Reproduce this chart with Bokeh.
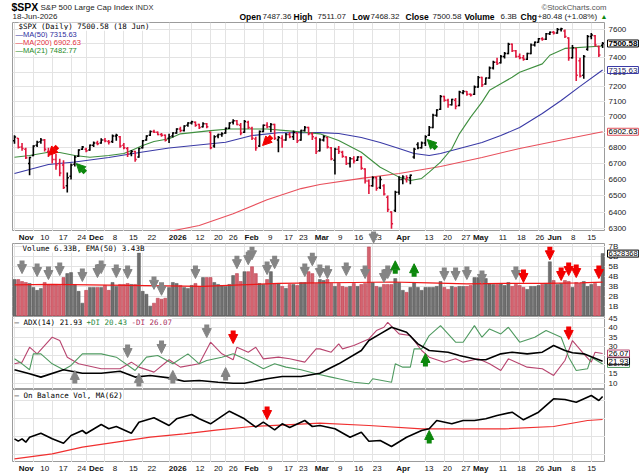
import math
from bokeh.plotting import figure
from bokeh.layouts import column, row
from bokeh.models import (ColumnDataSource, Range1d, Label, LabelSet, Arrow,
                          NormalHead, FixedTicker, Grid)
from bokeh.core.properties import value
from bokeh.embed import file_html
from bokeh.resources import INLINE

# ---------------------------------------------------------------------------
# $SPX daily bars, 3 Nov 2025 .. 18 Jun 2026, indexed by trading day (0..156)
# ---------------------------------------------------------------------------
opens = [6845, 6860, 6805, 6790, 6700, 6750, 6815, 6838, 6850, 6775,
         6780, 6725, 6700, 6690, 6560, 6620, 6695, 6745, 6790, 6790,
         6785, 6815, 6830, 6830, 6850, 6840, 6840, 6875, 6870, 6815,
         6795, 6765, 6775, 6740, 6800, 6850, 6880, 6905, 6900, 6885,
         6880, 6860, 6875, 6895, 6920, 6910, 6945, 6960, 6965, 6950,
         6935, 6955, 6900, 6810, 6875, 6885, 6895, 6925, 6965, 6975,
         6945, 6900, 6965, 6925, 6855, 6810, 6905, 6945, 6935, 6950,
         6850, 6860, 6850, 6885, 6870, 6895, 6850, 6910, 6930, 6890,
         6860, 6780, 6850, 6865, 6800, 6720, 6790, 6770, 6740, 6700,
         6730, 6720, 6740, 6665, 6590, 6560, 6610, 6550, 6560, 6490,
         6400, 6410, 6520, 6600, 6600, 6610, 6740, 6820, 6800, 6830,
         6880, 6930, 7010, 7050, 7135, 7110, 7080, 7110, 7075, 7160,
         7170, 7150, 7150, 7200, 7265, 7220, 7260, 7330, 7370, 7365,
         7410, 7430, 7495, 7450, 7410, 7400, 7390, 7430, 7490, 7510,
         7535, 7530, 7570, 7580, 7575, 7600, 7590, 7540, 7400, 7465,
         7380, 7280, 7460, 7550, 7555, 7480, 7487.36]
highs = [6880, 6862, 6830, 6800, 6742, 6815, 6845, 6862, 6855, 6800,
         6790, 6760, 6730, 6720, 6643, 6700, 6750, 6790, 6810, 6800,
         6820, 6840, 6845, 6860, 6862, 6850, 6885, 6890, 6875, 6830,
         6805, 6785, 6780, 6800, 6850, 6880, 6910, 6915, 6905, 6895,
         6885, 6890, 6900, 6925, 6935, 6945, 6965, 6975, 6970, 6955,
         6965, 6960, 6905, 6880, 6890, 6900, 6930, 6965, 6985, 6980,
         6960, 6980, 6975, 6935, 6870, 6910, 6950, 6965, 6960, 6955,
         6875, 6880, 6895, 6900, 6910, 6900, 6915, 6940, 6935, 6900,
         6870, 6860, 6880, 6870, 6805, 6800, 6810, 6780, 6745, 6740,
         6745, 6745, 6745, 6670, 6600, 6620, 6615, 6620, 6570, 6500,
         6405, 6530, 6620, 6625, 6625, 6630, 6800, 6835, 6840, 6880,
         6940, 7020, 7050, 7145, 7140, 7120, 7120, 7125, 7175, 7180,
         7172, 7155, 7210, 7275, 7270, 7265, 7340, 7380, 7400, 7420,
         7440, 7505, 7500, 7455, 7430, 7420, 7435, 7500, 7515, 7540,
         7545, 7575, 7585, 7590, 7610, 7612, 7600, 7545, 7490, 7470,
         7400, 7420, 7560, 7575, 7560, 7485, 7511.07]
lows = [6825, 6795, 6780, 6728, 6625, 6745, 6805, 6825, 6775, 6740,
        6700, 6660, 6620, 6540, 6519, 6600, 6680, 6740, 6785, 6770,
        6780, 6805, 6815, 6825, 6835, 6820, 6830, 6845, 6800, 6790,
        6740, 6745, 6710, 6735, 6795, 6845, 6875, 6895, 6880, 6870,
        6840, 6830, 6865, 6890, 6900, 6905, 6935, 6950, 6935, 6920,
        6930, 6925, 6790, 6800, 6860, 6870, 6890, 6920, 6950, 6945,
        6880, 6895, 6920, 6850, 6780, 6805, 6900, 6925, 6900, 6850,
        6770, 6800, 6845, 6860, 6850, 6830, 6845, 6905, 6880, 6850,
        6760, 6775, 6840, 6795, 6720, 6630, 6760, 6735, 6690, 6675,
        6700, 6715, 6660, 6575, 6510, 6555, 6530, 6540, 6500, 6400,
        6300, 6400, 6505, 6570, 6580, 6570, 6730, 6790, 6795, 6810,
        6875, 6925, 7000, 7045, 7100, 7060, 7075, 7050, 7070, 7150,
        7140, 7135, 7145, 7195, 7200, 7215, 7255, 7320, 7350, 7360,
        7395, 7425, 7440, 7400, 7390, 7380, 7385, 7425, 7480, 7505,
        7520, 7525, 7560, 7565, 7570, 7585, 7540, 7380, 7395, 7240,
        7265, 7255, 7450, 7530, 7480, 7405, 7468.32]
closes = [6868, 6802, 6795, 6735, 6738, 6810, 6835, 6850, 6790, 6770,
          6725, 6690, 6640, 6550, 6610, 6690, 6740, 6785, 6805, 6780,
          6815, 6830, 6825, 6850, 6842, 6835, 6875, 6880, 6810, 6800,
          6760, 6775, 6725, 6795, 6845, 6875, 6905, 6900, 6885, 6880,
          6848, 6870, 6895, 6920, 6910, 6940, 6960, 6968, 6945, 6930,
          6955, 6935, 6800, 6870, 6885, 6890, 6925, 6960, 6975, 6950,
          6895, 6970, 6930, 6860, 6800, 6905, 6945, 6935, 6950, 6860,
          6865, 6850, 6885, 6870, 6900, 6845, 6910, 6930, 6890, 6870,
          6775, 6850, 6870, 6805, 6730, 6790, 6775, 6745, 6700, 6730,
          6715, 6740, 6670, 6590, 6560, 6610, 6545, 6600, 6510, 6415,
          6330, 6520, 6600, 6615, 6610, 6625, 6790, 6800, 6830, 6870,
          6930, 7010, 7045, 7135, 7110, 7080, 7115, 7070, 7165, 7170,
          7150, 7145, 7200, 7265, 7215, 7260, 7330, 7370, 7360, 7410,
          7430, 7495, 7450, 7410, 7400, 7390, 7430, 7490, 7510, 7535,
          7530, 7570, 7580, 7575, 7600, 7605, 7550, 7400, 7470, 7280,
          7275, 7410, 7550, 7560, 7490, 7420.10, 7500.58]

# daily volume, billions of shares
volume_b = [3.7, 3.7, 3.5, 3.4, 3.3, 2.9, 2.6, 2.8, 3.4, 3.2,
            3.2, 3.2, 3.1, 3.9, 4.3, 4.4, 3.2, 2.5, 1.3, 2.6,
            2.9, 2.9, 2.9, 2.9, 3.1, 2.6, 3.4, 3.0, 3.2, 3.2,
            3.3, 3.2, 3.2, 6.4, 2.5, 2.2, 1.0, 1.3, 1.8, 1.7,
            1.8, 2.9, 3.4, 3.3, 3.1, 2.9, 2.8, 3.1, 3.3, 3.0,
            3.9, 3.9, 3.9, 3.4, 3.2, 3.1, 3.0, 3.2, 4.1, 4.3,
            3.5, 4.5, 4.5, 5.0, 4.3, 3.3, 3.2, 3.7, 4.5, 3.3,
            3.3, 3.0, 2.8, 3.2, 3.2, 3.1, 3.4, 3.4, 4.5, 4.3,
            3.3, 3.7, 3.6, 3.7, 3.3, 3.0, 3.3, 3.0, 2.9, 3.0,
            3.3, 3.0, 3.2, 3.3, 7.0, 3.4, 3.0, 2.9, 3.2, 3.2,
            3.2, 3.8, 3.4, 2.6, 2.4, 2.9, 3.4, 2.9, 2.6, 2.9,
            2.9, 2.9, 3.0, 3.5, 2.9, 2.7, 3.0, 2.9, 3.0, 3.0,
            3.0, 3.1, 3.9, 3.9, 3.6, 3.8, 3.3, 3.2, 3.2, 3.3,
            3.1, 3.4, 3.0, 3.2, 3.1, 2.9, 2.7, 3.0, 3.0, 3.1,
            3.2, 3.3, 5.5, 3.6, 3.2, 3.3, 3.6, 3.5, 2.9, 3.4,
            3.3, 3.5, 3.0, 3.2, 3.3, 3.0, 6.328368]

# moving averages (trading-day index, value)
ma50_idx = [0, 9, 16, 25, 34, 41, 56, 63, 70, 81, 86, 92, 97, 102, 106, 110,
            113, 118, 124, 129, 134, 140, 145, 150, 156]
ma50_val = [6637, 6693, 6709, 6737, 6772, 6798, 6835, 6878, 6896, 6897, 6891,
            6865, 6833, 6795, 6763, 6750, 6763, 6795, 6833, 6878, 6930, 7022,
            7109, 7204, 7315.63]
ma200_idx = [36, 41, 49, 58, 67, 76, 81, 92, 102, 113, 124, 134, 147, 156]
ma200_val = [6255, 6284, 6320, 6390, 6475, 6543, 6568, 6606, 6637, 6680,
             6737, 6795, 6859, 6902.63]
ma21_idx = [0, 4, 9, 12, 16, 20, 25, 29, 31, 34, 37, 41, 44, 52, 57, 63, 67,
            72, 77, 81, 86, 92, 97, 102, 105, 108, 110, 113, 116, 118, 121,
            124, 126, 129, 132, 134, 140, 142, 146, 156]
ma21_val = [6739, 6750, 6771, 6769, 6750, 6739, 6750, 6763, 6782, 6814, 6840,
            6857, 6889, 6910, 6921, 6921, 6921, 6910, 6899, 6889, 6846, 6771,
            6676, 6614, 6593, 6606, 6645, 6708, 6793, 6889, 6998, 7098, 7177,
            7221, 7266, 7300, 7358, 7418, 7466, 7482.77]

vol_ema_idx = [0, 10, 20, 30, 40, 50, 60, 70, 80, 90, 100, 110, 120, 130, 140, 150, 156]
vol_ema_val = [3.15, 3.2, 3.15, 3.1, 3.05, 3.0, 3.15, 3.3, 3.35, 3.4, 3.45,
               3.35, 3.25, 3.3, 3.3, 3.35, 3.43]

# ADX(14), +DI, -DI
adx_idx = [0, 4, 7, 13, 18, 23, 28, 32, 36, 41, 45, 49, 54, 58, 61, 67, 71, 76,
           81, 86, 92, 94, 97, 100, 104, 107, 110, 115, 118, 123, 125, 129, 132,
           136, 140, 143, 146, 148, 151, 156]
adx_val = [17.3, 15.1, 13.3, 17.3, 15.4, 15.4, 16.5, 13.3, 14.2, 12.9, 11.1,
           11.5, 10.5, 10.0, 10.0, 12.4, 13.6, 13.6, 15.4, 20.5, 27.7, 33.1,
           36.7, 40.3, 37.6, 31.3, 27.7, 26.8, 25.0, 22.7, 22.7, 25.9, 26.8,
           25.9, 26.8, 30.4, 27.7, 26.5, 25.9, 21.93]
pdi_idx = [0, 2, 4, 5, 7, 10, 13, 15, 18, 23, 27, 32, 35, 38, 42, 46, 49, 51,
           55, 58, 62, 66, 69, 72, 76, 80, 84, 86, 90, 94, 95, 100, 101, 103,
           105, 106, 108, 110, 113, 117, 119, 122, 124, 126, 129, 131, 134, 138,
           141, 145, 147, 149, 152, 153, 156]
pdi_val = [23.2, 20.5, 17.3, 25.9, 25.9, 20.5, 17.3, 19.6, 25.9, 25.9, 24.1,
           16.9, 24.1, 25.0, 20.5, 25.9, 20.5, 22.3, 24.1, 25.9, 22.3, 17.8,
           20.5, 18.7, 17.3, 15.1, 13.3, 12.4, 10.5, 9.7, 12.4, 10.5, 20.5,
           18.7, 18.7, 28.6, 28.6, 35.8, 41.2, 32.2, 32.2, 41.2, 34.9, 39.4,
           36.7, 40.3, 32.2, 34.9, 38.5, 34.9, 24.1, 16.9, 17.8, 24.1, 20.43]
mdi_idx = [0, 2, 4, 6, 10, 12, 14, 17, 23, 28, 31, 33, 37, 41, 44, 49, 52, 55,
           58, 59, 62, 64, 66, 70, 73, 77, 80, 81, 84, 86, 87, 90, 94, 96, 98,
           99, 102, 105, 108, 110, 114, 117, 119, 123, 126, 129, 131, 136, 140,
           143, 146, 148, 151, 153, 154, 156]
mdi_val = [20.5, 21.4, 29.5, 25.9, 34.9, 33.1, 24.1, 20.5, 17.8, 17.8, 21.4,
           18.7, 16.0, 22.7, 18.7, 20.5, 32.2, 25.9, 22.7, 29.5, 26.8, 29.5,
           23.2, 24.1, 23.2, 21.4, 28.6, 28.6, 26.8, 31.3, 28.6, 30.4, 34.0,
           38.5, 40.3, 43.0, 36.7, 35.8, 27.7, 24.1, 21.4, 23.2, 21.4, 23.2,
           20.5, 16.9, 23.2, 18.7, 17.8, 14.2, 22.3, 33.1, 25.9, 21.4, 26.8, 26.07]

# On Balance Volume (relative units) and its MA(62)
obv_idx = [0, 1, 2, 3, 4, 7, 10, 13, 15, 18, 19, 23, 25, 27, 31, 33, 37, 41, 43,
           47, 49, 52, 57, 61, 64, 66, 69, 71, 73, 77, 79, 81, 85, 89, 92, 94,
           97, 100, 104, 108, 110, 112, 116, 119, 122, 125, 128, 132, 135, 139,
           143, 146, 149, 153, 155, 156]
obv_val = [-8.3, -10.7, -8.3, -11.7, -6.7, -2.7, -8.3, -12.7, -5, 0, -3, 6, 1.7,
           4, -2.7, 8.3, 12.7, 5, 11.7, 16, 11.7, 6.7, 19.3, 11.7, 3.3, 8.3, 0.7,
           6.7, 3, 10, 4, 5, 1.7, -6.7, -1.7, -10.7, -10, -16, -6.7, 0, 1.7, 10,
           6.7, 10, 10, 11.7, 15, 18.3, 10.7, 18.3, 31.7, 31, 28.3, 35, 30, 34]
obv_ma_idx = [0, 10, 18, 27, 36, 45, 54, 63, 72, 81, 94, 108, 121, 130, 143, 152, 156]
obv_ma_val = [-28.3, -23.3, -16.7, -11.7, -6.7, -3.3, 0.7, 4, 5.7, 7.3, 5, 1.7,
              1.7, 1.7, 4, 10, 11]

# signal markers (trading-day index, level)
price_bear_idx = [9.0, 65.8]
price_bear_lvl = [6750, 6814]
price_bull_idx = [16.4, 109.5]
price_bull_lvl = [6699, 6852]
vol_gray_idx = [2, 6, 9, 12, 18, 22, 23, 27, 30, 37, 39, 48, 59, 62, 63, 67, 69,
                77, 79, 81, 83, 88, 93, 94, 98, 99, 114, 117, 120, 124, 133]
vol_gray_lvl = [4.3, 4.0, 3.7, 4.1, 3.5, 3.9, 4.3, 3.9, 3.8, 2.7, 2.1, 3.8, 4.8,
                5.2, 5.7, 4.2, 4.8, 4.0, 5.1, 3.9, 3.8, 4.1, 3.8, 7.4, 3.4, 3.8,
                3.6, 3.6, 3.7, 3.3, 3.7]
vol_red_idx = [135, 142, 145, 147, 149, 155]
vol_red_lvl = [3.4, 5.7, 3.6, 4.1, 3.9, 3.8]
vol_green_idx = [101, 106]
vol_green_lvl = [5.6, 5.3]
adx_gray_up_idx = [16, 33, 42, 56]
adx_gray_up_lvl = [16.9, 15.3, 16.9, 18.5]
adx_gray_dn_idx = [30, 39, 51]
adx_gray_dn_lvl = [23.9, 26.1, 34.7]
adx_red_idx = [58, 147]
adx_red_lvl = [31.5, 33.7]
adx_green_idx = [109]
adx_green_lvl = [26.1]
obv_red_idx = [67]
obv_red_lvl = [11]
obv_green_idx = [110]
obv_green_lvl = [0]

# axes
price_ticks = [6300, 6400, 6500, 6600, 6700, 6800, 6900, 7000, 7100, 7200,
               7300, 7400, 7500, 7600]
volume_ticks = [1, 2, 3, 4, 5, 6, 7]
adx_ticks = [10, 15, 20, 25, 30, 35, 40, 45]
month_ticks = [0, 19, 41, 61, 80, 102, 123, 143]
month_labels = ["Nov", "Dec", "2026", "Feb", "Mar", "Apr", "May", "Jun"]
day_ticks = [5, 10, 15, 24, 29, 34, 47, 52, 56, 66, 71, 75, 85, 90, 95, 109,
             114, 119, 129, 134, 139, 148, 153]
day_labels = ["10", "17", "24", "8", "15", "22", "12", "20", "26", "9", "17",
              "23", "9", "16", "23", "13", "20", "27", "11", "18", "26", "8", "15"]

# ---------------------------------------------------------------------------
# layout helpers (page pixels <-> panel values)
# ---------------------------------------------------------------------------
W = 639
H = 476
HEAD_H = 22
LEFT = 12
SIDE = 34
PANEL_W = W - SIDE
BAR_PX = 3.77
X_START = -2.0 / BAR_PX
X_END = X_START + (PANEL_W - LEFT) / BAR_PX
PX_PER_LN = 1062.4
ARROW_PX = 13

GRID = "#e3e3e3"
OUTLINE = "#9c9c9c"
UP = "#000000"
DOWN = "#e0173c"
GRAY_SIG = "#858585"
RED_SIG = "#f20000"
GREEN_SIG = "#0c870c"
SANS = "Liberation Sans"
MONO = "DejaVu Sans Mono"


def x_at(px):
    return X_START + (px - LEFT) / BAR_PX


def price_at(py):
    return 7600.0 * math.exp((29.0 - py) / PX_PER_LN)


def price_y(v):
    return 29.0 + PX_PER_LN * math.log(7600.0 / v)


def vol_at(py):
    return (315.5 - py) / 9.86


def vol_y(v):
    return 315.5 - 9.86 * v


def adx_at(py):
    return 40.0 - (py - 327.3) / 1.847


def adx_y(v):
    return 327.3 + (40.0 - v) * 1.847


def obv_at(py):
    return 430.0 - py


week_ticks = sorted(month_ticks + day_ticks)
xr = Range1d(X_START, X_END)


def bare(width, height, x_range, y_range, log=False):
    p = figure(width=width, height=height, x_range=x_range, y_range=y_range,
               y_axis_type="log" if log else "linear",
               x_axis_location=None, y_axis_location=None,
               output_backend="svg", toolbar_location=None,
               min_border_left=0, min_border_right=0,
               min_border_top=0, min_border_bottom=0)
    p.outline_line_color = None
    p.background_fill_color = "white"
    p.border_fill_color = "white"
    p.xgrid.visible = False
    p.ygrid.visible = False
    return p


def panel(height, y_range, yticks, log=False):
    p = bare(PANEL_W, height, xr, y_range, log)
    p.min_border_left = LEFT
    p.outline_line_color = OUTLINE
    p.add_layout(Grid(dimension=0, ticker=FixedTicker(ticks=week_ticks),
                      grid_line_color=GRID))
    p.add_layout(Grid(dimension=1, ticker=FixedTicker(ticks=yticks),
                      grid_line_color=GRID))
    return p


def text(p, x, y, s, size="8px", font=SANS, color="black", bold=False,
         align="left", bg=None, border=None, pad=0):
    kw = dict(x=x, y=y, text=s, text_font=font, text_font_size=size,
              text_color=color, text_font_style="bold" if bold else "normal",
              text_align=align, text_baseline="middle")
    if bg:
        kw.update(background_fill_color=bg, background_fill_alpha=1.0)
    if border:
        kw.update(border_line_color=border, border_line_width=1)
    if pad:
        kw.update(padding=pad)
    p.add_layout(Label(**kw))


def arrows(p, xs, y_from, y_to, color):
    src = ColumnDataSource(dict(x=xs, y0=y_from, y1=y_to))
    head = NormalHead(size=9, fill_color=color, line_color=color, line_width=1)
    p.add_layout(Arrow(end=head, source=src, x_start="x", y_start="y0",
                       x_end="x", y_end="y1", line_color=color, line_width=5))


def vertical_arrows(p, xs, tips, length, color, pointing_up):
    y0 = [t - length for t in tips] if pointing_up else [t + length for t in tips]
    arrows(p, xs, y0, tips, color)


def diagonal_arrows(p, xs, tips, color, tail_up):
    k = math.exp(9.0 / PX_PER_LN)
    src = ColumnDataSource(dict(
        x0=[x + 9.0 / BAR_PX for x in xs],
        y0=[t * k if tail_up else t / k for t in tips],
        x1=xs, y1=tips))
    head = NormalHead(size=9, fill_color=color, line_color=color, line_width=1)
    p.add_layout(Arrow(end=head, source=src, x_start="x0", y_start="y0",
                       x_end="x1", y_end="y1", line_color=color, line_width=5))


def date_strip(height, y_top, y_mid):
    s = bare(PANEL_W, height, Range1d(x_at(0), x_at(PANEL_W)),
             Range1d(y_top + height, y_top))
    for ticks, labels, style in ((month_ticks, month_labels, "bold"),
                                 (day_ticks, day_labels, "normal")):
        src = ColumnDataSource(dict(x=ticks, y=[y_mid] * len(ticks), t=labels))
        s.add_layout(LabelSet(x="x", y="y", text="t", source=src,
                              text_align="center", text_baseline="middle",
                              text_font=value(SANS), text_font_size="8px",
                              text_font_style=style, text_color="#111111"))
    return s


n = len(closes)
idx = list(range(n))
bar_colors = [UP if i == 0 or closes[i] >= closes[i - 1] else DOWN for i in idx]

# ---------------------------------------------------------------------------
# header
# ---------------------------------------------------------------------------
head = bare(W, HEAD_H, Range1d(0, W), Range1d(HEAD_H, 0))
text(head, 11, 6.5, "$SPX", size="10.5px", bold=True)
text(head, 40, 7, "S&P 500 Large Cap Index", size="8px", color="#222222")
text(head, 135, 7, "INDX", size="7.5px", color="#333333")
text(head, 606, 6.5, "\u00a9StockCharts.com", size="7.8px", color="#555555",
     align="right")
text(head, 12, 16, "18-Jun-2026", size="8px", color="#222222")
chg = closes[-1] - closes[-2]
pct = 100.0 * chg / closes[-2]
quote = [
    (239, "Open", True), (262, f"{opens[-1]:.2f}", False),
    (293, "High", True), (317, f"{highs[-1]:.2f}", False),
    (352, "Low", True), (370, f"{lows[-1]:.2f}", False),
    (405, "Close", True), (432, f"{closes[-1]:.2f}", False),
    (464, "Volume", True), (500, f"{volume_b[-1]:.1f}B", False),
    (520, "Chg", True), (537, f"{chg:+.2f} ({pct:+.2f}%)", False),
]
for px, s, bold in quote:
    text(head, px, 16, s, size="8.5px" if bold else "8px", bold=bold,
         color="black" if bold else "#222222")
text(head, 600, 16, "\u25b2", size="7px", color=GREEN_SIG)

# ---------------------------------------------------------------------------
# price panel
# ---------------------------------------------------------------------------
p1 = panel(209, Range1d(price_at(231), price_at(22)), price_ticks, log=True)
p1.line(ma200_idx, ma200_val, line_color="#e8505c", line_width=1.1)
p1.line(ma50_idx, ma50_val, line_color="#3a3aa6", line_width=1.1)
p1.line(ma21_idx, ma21_val, line_color="#3f8f3f", line_width=1.1)

bars = ColumnDataSource(dict(
    x=idx, xo=[i - 0.42 for i in idx], xc=[i + 0.42 for i in idx],
    o=opens, h=highs, l=lows, c=closes, color=bar_colors))
p1.segment(x0="x", y0="l", x1="x", y1="h", line_color="color", line_width=1.6, source=bars)
p1.segment(x0="xo", y0="o", x1="x", y1="o", line_color="color", line_width=1.5, source=bars)
p1.segment(x0="x", y0="c", x1="xc", y1="c", line_color="color", line_width=1.5, source=bars)

diagonal_arrows(p1, price_bear_idx, price_bear_lvl, RED_SIG, True)
diagonal_arrows(p1, price_bull_idx, price_bull_lvl, GREEN_SIG, False)

text(p1, x_at(18), price_at(25.7), f"$SPX (Daily) {closes[-1]:.2f} (18 Jun)",
     size="7.5px", font=MONO, bg="white")
text(p1, x_at(15), price_at(34), f"\u2014MA(50) {ma50_val[-1]:.2f}", size="7.5px",
     color="#2f2f9e", bg="white")
text(p1, x_at(15), price_at(42), f"\u2014MA(200) {ma200_val[-1]:.2f}", size="7.5px",
     color="#e0303c", bg="white")
text(p1, x_at(15), price_at(50), f"\u2014MA(21) {ma21_val[-1]:.2f}", size="7.5px",
     color="#1f8a1f", bg="white")

dates_mid = date_strip(12, 231, 237)

# ---------------------------------------------------------------------------
# volume panel
# ---------------------------------------------------------------------------
vol_top = vol_at(243)
p2 = panel(73, Range1d(vol_at(316), vol_top), volume_ticks)
vsrc = ColumnDataSource(dict(
    x=idx, v=volume_b,
    fill=["#6f6f6f" if c == UP else "#d4636f" for c in bar_colors],
    edge=["#555555" if c == UP else "#b53a4a" for c in bar_colors]))
p2.vbar(x="x", top="v", bottom=0, width=0.8, fill_color="fill", line_color="edge",
        line_width=0.5, source=vsrc)
p2.line(vol_ema_idx, vol_ema_val, line_color="#f01818", line_width=1.2)

VOL_ARROW = ARROW_PX / 9.86
vertical_arrows(p2, vol_gray_idx, vol_gray_lvl, VOL_ARROW, GRAY_SIG, False)
vertical_arrows(p2, vol_red_idx, vol_red_lvl, VOL_ARROW, RED_SIG, False)
vertical_arrows(p2, vol_green_idx, vol_green_lvl, VOL_ARROW, GREEN_SIG, True)
text(p2, x_at(22), vol_at(247.5),
     f"Volume {volume_b[-1]:.2f}B, EMA(50) {vol_ema_val[-1]:.2f}B",
     size="7.5px", font=MONO, bg="white")

# a marker sitting above the volume panel spills into the date strip
spill = [(i, t) for i, t in zip(vol_gray_idx, vol_gray_lvl) if t > vol_top]
if spill:
    arrows(dates_mid, [i for i, _ in spill],
           [vol_y(t) - ARROW_PX for _, t in spill],
           [vol_y(t) for _, t in spill], GRAY_SIG)

# ---------------------------------------------------------------------------
# ADX panel
# ---------------------------------------------------------------------------
p3 = panel(73, Range1d(adx_at(389), adx_at(316)), adx_ticks)
p3.line(mdi_idx, mdi_val, line_color="#b8456f", line_width=1.1)
p3.line(pdi_idx, pdi_val, line_color="#4f9a60", line_width=1.1)
p3.line(adx_idx, adx_val, line_color="black", line_width=1.6)

ADX_ARROW = ARROW_PX / 1.847
vertical_arrows(p3, adx_gray_up_idx, adx_gray_up_lvl, ADX_ARROW, GRAY_SIG, True)
vertical_arrows(p3, adx_gray_dn_idx, adx_gray_dn_lvl, ADX_ARROW, GRAY_SIG, False)
vertical_arrows(p3, adx_red_idx, adx_red_lvl, ADX_ARROW, RED_SIG, False)
vertical_arrows(p3, adx_green_idx, adx_green_lvl, ADX_ARROW, GREEN_SIG, True)

text(p3, x_at(14), adx_at(321.5), f"\u2014 ADX(14) {adx_val[-1]:.2f} ", size="7.5px",
     font=MONO, bg="white")
text(p3, x_at(86), adx_at(321.5), f"+DI {pdi_val[-1]:.2f} ", size="7.5px", font=MONO,
     color="#2f8a3f", bg="white")
text(p3, x_at(131), adx_at(321.5), f"-DI {mdi_val[-1]:.2f}", size="7.5px", font=MONO,
     color="#a83060", bg="white")

# ---------------------------------------------------------------------------
# On Balance Volume panel
# ---------------------------------------------------------------------------
p4 = panel(73, Range1d(obv_at(462), obv_at(389)), [30, 12, -6, -24])
p4.line(obv_ma_idx, obv_ma_val, line_color="#f03030", line_width=1.2)
p4.line(obv_idx, obv_val, line_color="black", line_width=1.6)
vertical_arrows(p4, obv_red_idx, obv_red_lvl, ARROW_PX, RED_SIG, False)
vertical_arrows(p4, obv_green_idx, obv_green_lvl, ARROW_PX, GREEN_SIG, True)
text(p4, x_at(14), obv_at(395), "\u2014 On Balance Vol, MA(62)", size="7.5px",
     font=MONO, bg="white")

dates_bottom = date_strip(14, 462, 468)

# ---------------------------------------------------------------------------
# right-hand value scale for all panels (page-pixel y)
# ---------------------------------------------------------------------------
scale = bare(SIDE, H - HEAD_H, Range1d(0, SIDE), Range1d(H, HEAD_H))
scale_rows = ([(price_y(t), f"{t:d}") for t in price_ticks] +
              [(vol_y(t), f"{t:d}B") for t in volume_ticks] +
              [(adx_y(t), f"{t:d}") for t in adx_ticks])
scale_src = ColumnDataSource(dict(x=[3] * len(scale_rows),
                                  y=[r[0] for r in scale_rows],
                                  t=[r[1] for r in scale_rows]))
scale.add_layout(LabelSet(x="x", y="y", text="t", source=scale_src,
                          text_align="left", text_baseline="middle",
                          text_font=value(SANS), text_font_size="8px",
                          text_color="#222222"))
tags = [
    (price_y(ma200_val[-1]), f"{ma200_val[-1]:.2f}", "#e0505a", "black", False, "8px"),
    (price_y(ma50_val[-1]), f"{ma50_val[-1]:.2f}", "#3a3aa6", "#1a1a5a", False, "8px"),
    (price_y(closes[-1]), f"{closes[-1]:.2f}", "black", "black", True, "8px"),
    (vol_y(volume_b[-1]), f"{volume_b[-1] * 1e6:.0f}", "black", "black", False, "7.5px"),
    (adx_y(pdi_val[-1]), f"{pdi_val[-1]:.2f}", "#4f9a60", "black", False, "8px"),
    (adx_y(adx_val[-1]), f"{adx_val[-1]:.2f}", "black", "black", False, "8px"),
    (adx_y(mdi_val[-1]), f"{mdi_val[-1]:.2f}", "#b8456f", "black", False, "8px"),
]
for y, s, edge, color, bold, size in tags:
    text(scale, 2, y, s, size=size, color=color, bold=bold, bg="white",
         border=edge, pad=1)

charts = column(p1, dates_mid, p2, p3, p4, dates_bottom, spacing=0)
layout = column(head, row(charts, scale, spacing=0), spacing=0)
open("out.html", "w").write(file_html(layout, INLINE))
